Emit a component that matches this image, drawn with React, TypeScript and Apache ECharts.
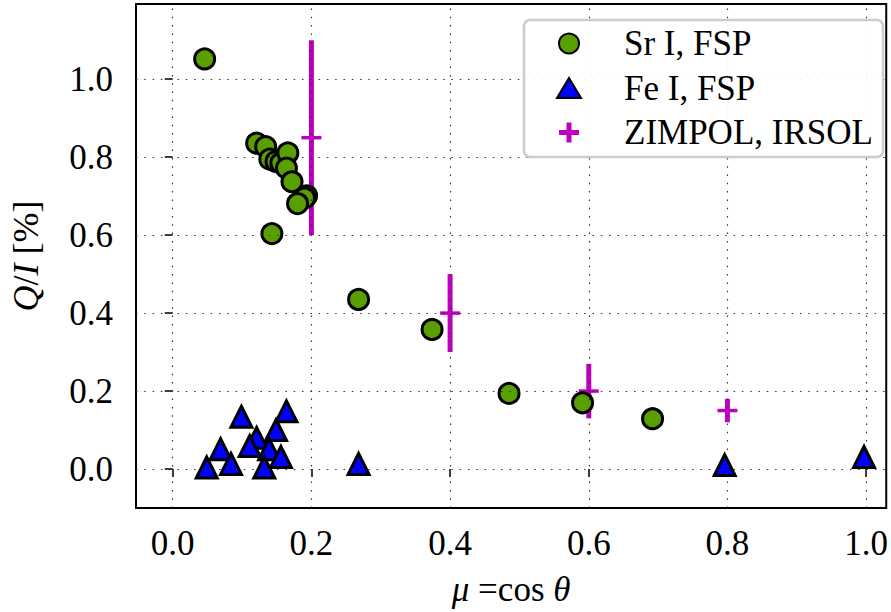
import React, { useEffect, useRef } from "react";
import * as echarts from "echarts";

const srMu = [0.046, 0.121, 0.134, 0.140, 0.149, 0.156, 0.166, 0.164, 0.172, 0.193, 0.190, 0.180, 0.143, 0.268, 0.374, 0.485, 0.591, 0.692];
const srQ = [1.052, 0.836, 0.827, 0.795, 0.789, 0.785, 0.811, 0.772, 0.737, 0.701, 0.695, 0.681, 0.604, 0.435, 0.358, 0.194, 0.170, 0.129];

const feMu = [0.099, 0.164, 0.149, 0.121, 0.111, 0.069, 0.139, 0.156, 0.084, 0.049, 0.132, 0.268, 0.796, 0.997];
const feQ = [0.134, 0.148, 0.100, 0.080, 0.059, 0.051, 0.051, 0.031, 0.013, 0.004, 0.004, 0.013, 0.010, 0.031];

const zMu = [0.2, 0.4, 0.6, 0.8];
const zQ = [0.85, 0.40, 0.20, 0.15];
const zErr = [0.25, 0.10, 0.07, 0.03];

const ticks = [0.0, 0.2, 0.4, 0.6, 0.8, 1.0];
const seriesNames = ["Sr I, FSP", "Fe I, FSP", "ZIMPOL, IRSOL"];

const FONT = "Liberation Serif";
const MAGENTA = "#bf00bf";

export default function App() {
  const ref = useRef<HTMLDivElement>(null);
  useEffect(() => {
    if (!ref.current) return;
    const chart = echarts.init(ref.current, undefined, { renderer: "svg" });
    const gridLineStyle = { type: [1.5, 6.8], color: "#333", width: 1.2 };
    const option: any = {
      animation: false,
      backgroundColor: "#fff",
      grid: {
        left: 136, right: 3, top: 4, bottom: 103,
        show: true, borderColor: "#000", borderWidth: 2, backgroundColor: "transparent",
      },
      xAxis: {
        type: "value", min: -0.053, max: 1.029,
        splitLine: { show: false },
        axisLine: { show: false },
        axisTick: { show: true, length: 8, lineStyle: { color: "#000", width: 1.5 }, customValues: ticks },
        axisLabel: {
          show: true, margin: 18, customValues: ticks,
          formatter: (v: number) => v.toFixed(1),
          fontFamily: FONT, fontSize: 35, color: "#000", lineHeight: 35,
        },
        name: "{i|μ} =cos {i|θ}",
        nameLocation: "middle", nameGap: 64,
        nameTextStyle: {
          fontFamily: FONT, fontSize: 35, color: "#000",
          rich: { i: { fontFamily: FONT, fontSize: 35, fontStyle: "italic", color: "#000" } },
        },
      },
      yAxis: {
        type: "value", min: -0.1, max: 1.193,
        splitLine: { show: false },
        axisLine: { show: false },
        axisTick: { show: true, length: 8, lineStyle: { color: "#000", width: 1.5 }, customValues: ticks },
        axisLabel: {
          show: true, margin: 23, customValues: ticks,
          formatter: (v: number) => v.toFixed(1),
          fontFamily: FONT, fontSize: 35, color: "#000",
        },
        name: "{i|Q}/{i|I} [%]",
        nameLocation: "middle", nameGap: 92, nameRotate: 90,
        nameTextStyle: {
          fontFamily: FONT, fontSize: 36, color: "#000",
          rich: { i: { fontFamily: FONT, fontSize: 36, fontStyle: "italic", color: "#000" } },
        },
      },
      legend: {
        orient: "vertical", left: 556, top: 26, padding: 0,
        itemWidth: 24, itemHeight: 20, itemGap: 9.5, z: 20,
        data: [
          { name: seriesNames[0], icon: "circle" },
          { name: seriesNames[1], icon: "triangle" },
          { name: seriesNames[2], icon: "path://M7.5,0H12.5V7.5H20V12.5H12.5V20H7.5V12.5H0V7.5H7.5Z", itemStyle: { color: MAGENTA, borderWidth: 0 } },
        ],
        textStyle: { fontFamily: FONT, fontSize: 35, color: "#000", lineHeight: 34, padding: [0, 0, 0, 38] },
      },
      graphic: [
        {
          type: "rect", z: 10,
          shape: { x: 524, y: 20, width: 359, height: 137, r: 6 },
          style: { fill: "rgba(255,255,255,0.9)", stroke: "#cccccc", lineWidth: 2.5 },
        },
      ],
      series: [
        {
          name: seriesNames[2], type: "custom", z: 2,
          itemStyle: { color: MAGENTA },
          encode: { x: 0, y: 1 },
          data: zMu.map((m, i) => [m, zQ[i], zErr[i]]),
          renderItem: (params: any, api: any) => {
            const x = api.value(0), y = api.value(1), e = api.value(2);
            const t = api.coord([x, y + e]);
            const b = api.coord([x, y - e]);
            const c = api.coord([x, y]);
            return {
              type: "group",
              children: [
                { type: "line", shape: { x1: t[0], y1: t[1], x2: b[0], y2: b[1] }, style: { stroke: MAGENTA, lineWidth: 5 } },
                { type: "line", shape: { x1: c[0] - 10, y1: c[1], x2: c[0] + 10, y2: c[1] }, style: { stroke: MAGENTA, lineWidth: 3.5 } },
              ],
            };
          },
          markLine: {
            silent: true, symbol: ["none", "none"], label: { show: false },
            lineStyle: gridLineStyle,
            data: [
              ...ticks.map((t) => ({ xAxis: t })),
              ...ticks.map((t) => ({ yAxis: t })),
            ],
          },
        },
        {
          name: seriesNames[0], type: "scatter", z: 3,
          symbol: "circle", symbolSize: 20,
          itemStyle: { color: "#5a9f00", borderColor: "#000", borderWidth: 3, opacity: 1 },
          data: srMu.map((m, i) => [m, srQ[i]]),
        },
        {
          name: seriesNames[1], type: "scatter", z: 3,
          symbol: "triangle", symbolSize: 21,
          itemStyle: { color: "#0000ff", borderColor: "#000", borderWidth: 3, opacity: 1 },
          data: feMu.map((m, i) => [m, feQ[i]]),
        },
      ],
    };
    chart.setOption(option);
    return () => chart.dispose();
  }, []);
  return <div ref={ref} style={{ width: 891, height: 612, position: "absolute", left: 0, top: 0 }} />;
}
